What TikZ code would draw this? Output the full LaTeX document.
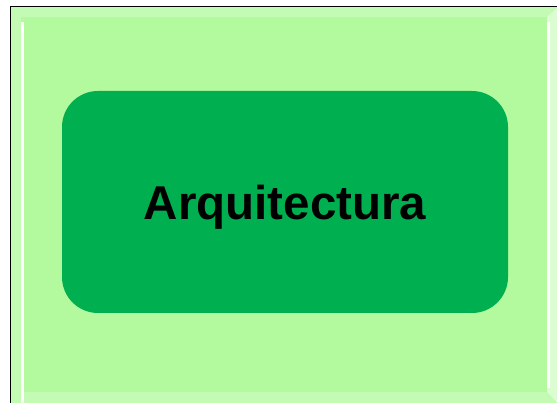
\documentclass[tikz,border=0pt]{standalone}
\usepackage{fontspec}
\setmainfont{Liberation Sans}
\definecolor{bglight}{HTML}{B3F99D}
\definecolor{bevel}{HTML}{C4FBB4}
\definecolor{boxgreen}{HTML}{00B050}
\begin{document}
\begin{tikzpicture}[x=1pt,y=-1pt,
  mainbox/.style={fill=boxgreen, rounded corners=36pt, minimum width=446pt, minimum height=222pt, inner sep=0pt, font=\bfseries\fontsize{47.5}{56}\selectfont, text=black}]
\useasboundingbox (0,0) rectangle (557,403);
\fill[white] (0,0) rectangle (557,403);
\begin{scope}
\clip (0,0) rectangle (557,403);
\fill[bglight] (10.5,6.5) rectangle (575,420);
% bevel bands
\fill[bevel] (10.5,6.5) -- (575,6.5) -- (565,17) -- (21,17) -- cycle;
\fill[bevel] (10.5,6.5) -- (21,17) -- (21,420) -- (10.5,420) -- cycle;
\fill[bevel!60!white] (547,17) -- (557,8) -- (557,403) -- (547,392) -- cycle;
\fill[bevel] (21,392) -- (547,392) -- (557,403) -- (10.5,403) -- cycle;
\draw[white, line width=2.5pt] (22.5,22) -- (22.5,403);
\draw[white, line width=2.5pt] (548.5,22) -- (548.5,388);
\draw[black, line width=1.2pt] (10.5,403) -- (10.5,6.5) -- (575,6.5);
\end{scope}
\node[mainbox] (box) at (285,202) {\raisebox{-18pt}[0pt][0pt]{Arquitectura}};
\end{tikzpicture}
\end{document}
